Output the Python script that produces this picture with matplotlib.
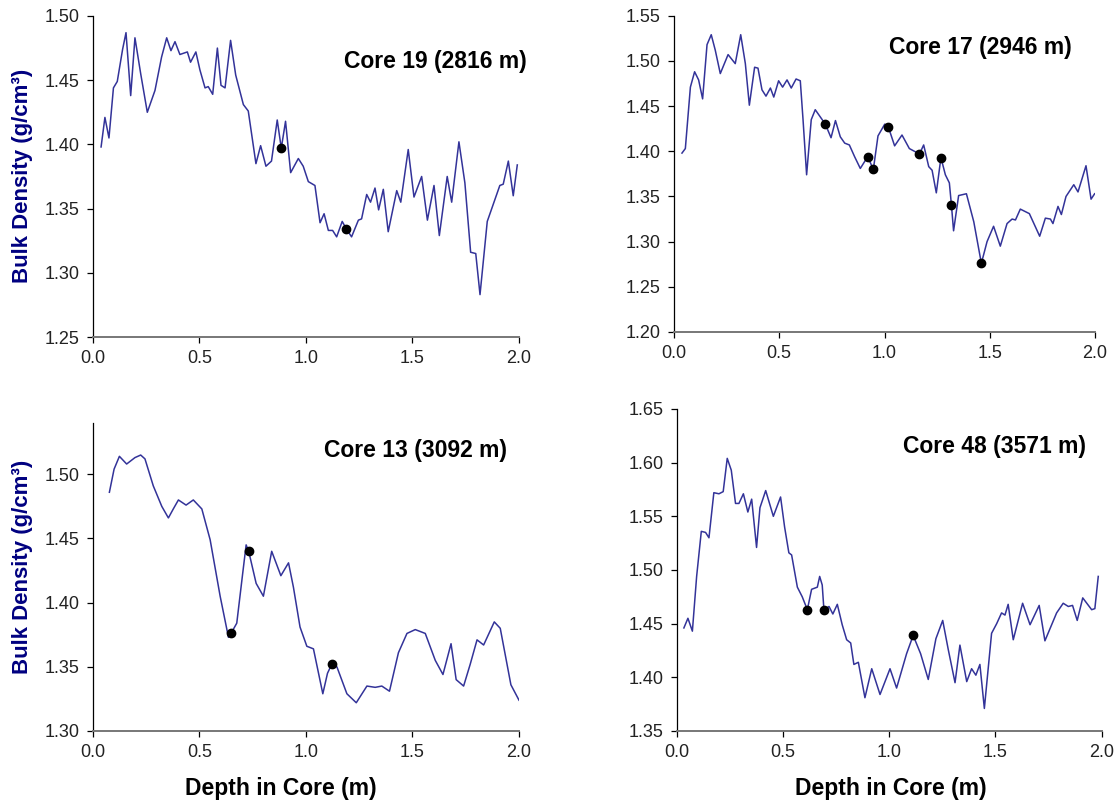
import matplotlib
matplotlib.use("Agg")
import matplotlib.pyplot as plt
from matplotlib.ticker import FormatStrFormatter

plt.rcParams['font.family'] = ['Liberation Sans', 'DejaVu Sans']

# Core 19 (2816 m)
c19_depth = [0.038, 0.056, 0.075, 0.096, 0.114, 0.139, 0.155, 0.177, 0.197, 0.224, 0.255,
             0.291, 0.322, 0.346, 0.366, 0.385, 0.408, 0.443, 0.458, 0.483, 0.502, 0.526,
             0.541, 0.562, 0.584, 0.601, 0.620, 0.646, 0.670, 0.706, 0.729, 0.765, 0.787,
             0.812, 0.838, 0.865, 0.884, 0.904, 0.928, 0.964, 0.987, 1.011, 1.042, 1.066,
             1.085, 1.105, 1.125, 1.144, 1.170, 1.190, 1.214, 1.246, 1.261, 1.285, 1.303,
             1.324, 1.341, 1.363, 1.386, 1.426, 1.445, 1.480, 1.507, 1.543, 1.570, 1.601,
             1.626, 1.663, 1.684, 1.718, 1.746, 1.773, 1.797, 1.817, 1.851, 1.910, 1.926,
             1.950, 1.973, 1.992]
c19_dens = [1.398, 1.421, 1.405, 1.444, 1.449, 1.474, 1.487, 1.438, 1.483, 1.455, 1.425,
            1.442, 1.468, 1.483, 1.473, 1.480, 1.470, 1.472, 1.464, 1.472, 1.458, 1.444,
            1.445, 1.439, 1.475, 1.446, 1.444, 1.481, 1.454, 1.431, 1.426, 1.385, 1.399,
            1.383, 1.387, 1.419, 1.397, 1.418, 1.378, 1.389, 1.383, 1.371, 1.368, 1.339,
            1.346, 1.333, 1.333, 1.328, 1.340, 1.334, 1.328, 1.341, 1.342, 1.361, 1.355,
            1.366, 1.349, 1.365, 1.332, 1.364, 1.355, 1.396, 1.359, 1.375, 1.341, 1.368,
            1.329, 1.375, 1.355, 1.402, 1.370, 1.316, 1.315, 1.283, 1.340, 1.368, 1.369,
            1.387, 1.360, 1.384]
c19_pts_depth = [0.884, 1.190]
c19_pts_dens = [1.397, 1.334]

# Core 17 (2946 m)
c17_depth = [0.038, 0.054, 0.078, 0.098, 0.117, 0.136, 0.157, 0.177, 0.196, 0.220, 0.257,
             0.291, 0.317, 0.339, 0.358, 0.383, 0.399, 0.418, 0.437, 0.458, 0.474, 0.497,
             0.516, 0.537, 0.557, 0.580, 0.600, 0.613, 0.630, 0.652, 0.671, 0.719, 0.746,
             0.767, 0.790, 0.811, 0.833, 0.858, 0.885, 0.920, 0.947, 0.969, 1.001, 1.018,
             1.048, 1.083, 1.118, 1.166, 1.186, 1.210, 1.226, 1.246, 1.268, 1.289, 1.308,
             1.318, 1.328, 1.352, 1.389, 1.424, 1.460, 1.487, 1.518, 1.550, 1.582, 1.606,
             1.622, 1.645, 1.688, 1.737, 1.764, 1.788, 1.800, 1.824, 1.840, 1.862, 1.899,
             1.919, 1.957, 1.981, 1.998]
c17_dens = [1.398, 1.403, 1.471, 1.488, 1.479, 1.458, 1.518, 1.529, 1.512, 1.486, 1.507,
            1.497, 1.529, 1.497, 1.451, 1.493, 1.492, 1.468, 1.461, 1.470, 1.460, 1.478,
            1.471, 1.479, 1.470, 1.480, 1.478, 1.435, 1.374, 1.435, 1.446, 1.430, 1.415,
            1.434, 1.416, 1.409, 1.407, 1.394, 1.381, 1.394, 1.380, 1.417, 1.430, 1.427,
            1.406, 1.418, 1.403, 1.397, 1.407, 1.383, 1.379, 1.354, 1.393, 1.374, 1.365,
            1.340, 1.312, 1.351, 1.353, 1.322, 1.276, 1.300, 1.317, 1.295, 1.320, 1.325,
            1.324, 1.336, 1.331, 1.306, 1.326, 1.325, 1.320, 1.339, 1.330, 1.350, 1.363,
            1.355, 1.384, 1.347, 1.353]
c17_pts_depth = [0.719, 0.920, 0.947, 1.018, 1.166, 1.268, 1.318, 1.460]
c17_pts_dens = [1.430, 1.394, 1.380, 1.427, 1.397, 1.393, 1.340, 1.276]

# Core 13 (3092 m)
c13_depth = [0.077, 0.099, 0.124, 0.158, 0.197, 0.224, 0.244, 0.283, 0.323, 0.354, 0.377,
             0.401, 0.437, 0.471, 0.511, 0.550, 0.597, 0.636, 0.648, 0.675, 0.703, 0.719,
             0.731, 0.766, 0.800, 0.839, 0.882, 0.918, 0.941, 0.972, 1.004, 1.035, 1.079,
             1.101, 1.121, 1.145, 1.192, 1.236, 1.286, 1.325, 1.356, 1.392, 1.434, 1.474,
             1.513, 1.560, 1.607, 1.643, 1.681, 1.705, 1.740, 1.771, 1.803, 1.834, 1.884,
             1.912, 1.962, 2.000]
c13_dens = [1.486, 1.504, 1.514, 1.508, 1.513, 1.515, 1.512, 1.491, 1.475, 1.466, 1.473,
            1.480, 1.476, 1.480, 1.473, 1.449, 1.405, 1.373, 1.376, 1.384, 1.423, 1.445,
            1.440, 1.415, 1.405, 1.440, 1.421, 1.431, 1.412, 1.381, 1.366, 1.364, 1.329,
            1.345, 1.352, 1.350, 1.329, 1.322, 1.335, 1.334, 1.335, 1.331, 1.361, 1.376,
            1.379, 1.376, 1.355, 1.344, 1.368, 1.340, 1.335, 1.352, 1.371, 1.367, 1.385,
            1.380, 1.336, 1.324]
c13_pts_depth = [0.648, 0.731, 1.122]
c13_pts_dens = [1.376, 1.440, 1.352]

# Core 48 (3571 m)
c48_depth = [0.034, 0.053, 0.074, 0.094, 0.116, 0.136, 0.152, 0.175, 0.199, 0.219, 0.238,
             0.257, 0.277, 0.293, 0.314, 0.335, 0.353, 0.376, 0.392, 0.419, 0.455, 0.489,
             0.508, 0.528, 0.541, 0.568, 0.591, 0.615, 0.635, 0.662, 0.673, 0.685, 0.693,
             0.717, 0.735, 0.756, 0.779, 0.800, 0.819, 0.834, 0.855, 0.886, 0.918, 0.957,
             1.004, 1.035, 1.082, 1.113, 1.148, 1.184, 1.220, 1.252, 1.278, 1.310, 1.333,
             1.365, 1.388, 1.408, 1.427, 1.448, 1.482, 1.506, 1.529, 1.545, 1.560, 1.584,
             1.628, 1.663, 1.706, 1.733, 1.788, 1.819, 1.843, 1.863, 1.885, 1.911, 1.953,
             1.968, 1.984]
c48_dens = [1.446, 1.455, 1.443, 1.494, 1.536, 1.535, 1.530, 1.572, 1.571, 1.573, 1.604,
            1.593, 1.562, 1.562, 1.571, 1.554, 1.566, 1.521, 1.558, 1.574, 1.550, 1.568,
            1.540, 1.516, 1.514, 1.484, 1.475, 1.463, 1.482, 1.484, 1.494, 1.486, 1.463,
            1.466, 1.459, 1.468, 1.449, 1.435, 1.432, 1.412, 1.414, 1.381, 1.408, 1.384,
            1.408, 1.390, 1.422, 1.439, 1.422, 1.398, 1.436, 1.453, 1.426, 1.395, 1.430,
            1.396, 1.408, 1.402, 1.412, 1.371, 1.441, 1.450, 1.460, 1.458, 1.468, 1.435,
            1.469, 1.449, 1.467, 1.434, 1.460, 1.469, 1.466, 1.467, 1.453, 1.474, 1.463,
            1.464, 1.494]
c48_pts_depth = [0.615, 0.693, 1.113]
c48_pts_dens = [1.463, 1.463, 1.439]

titles = ['Core 19 (2816 m)', 'Core 17 (2946 m)', 'Core 13 (3092 m)', 'Core 48 (3571 m)']
ylims = [(1.25, 1.50), (1.20, 1.55), (1.30, 1.54), (1.35, 1.65)]
ytick_lists = [[1.25, 1.30, 1.35, 1.40, 1.45, 1.50],
               [1.20, 1.25, 1.30, 1.35, 1.40, 1.45, 1.50, 1.55],
               [1.30, 1.35, 1.40, 1.45, 1.50],
               [1.35, 1.40, 1.45, 1.50, 1.55, 1.60, 1.65]]
xticks = [0.0, 0.5, 1.0, 1.5, 2.0]

series = [(c19_depth, c19_dens, c19_pts_depth, c19_pts_dens),
          (c17_depth, c17_dens, c17_pts_depth, c17_pts_dens),
          (c13_depth, c13_dens, c13_pts_depth, c13_pts_dens),
          (c48_depth, c48_dens, c48_pts_depth, c48_pts_dens)]

# axes boxes measured in figure fractions
boxes = [[0.0831, 0.5824, 0.3807, 0.3978],
         [0.6023, 0.5886, 0.3763, 0.3919],
         [0.0831, 0.0942, 0.3807, 0.3817],
         [0.6047, 0.0942, 0.3798, 0.3990]]
title_pos = [(0.803, 0.857), (0.727, 0.901), (0.756, 0.912), (0.747, 0.883)]

fig = plt.figure(figsize=(11.19, 8.07), dpi=100)
line_col = '#333399'

for i in range(4):
    ax = fig.add_axes(boxes[i])
    d, v, pd_, pv = series[i]
    ax.plot(d, v, color=line_col, lw=1.1, solid_joinstyle='round')
    ax.plot(pd_, pv, 'o', color='black', ms=6, zorder=3)
    ax.set_xlim(0, 2.0)
    ax.set_ylim(*ylims[i])
    ax.set_xticks(xticks)
    ax.set_yticks(ytick_lists[i])
    ax.xaxis.set_major_formatter(FormatStrFormatter('%.1f'))
    ax.yaxis.set_major_formatter(FormatStrFormatter('%.2f'))
    for s in ['top', 'right']:
        ax.spines[s].set_visible(False)
    ax.spines['left'].set_color('black')
    ax.spines['left'].set_linewidth(0.9)
    ax.spines['bottom'].set_color('#777777')
    ax.spines['bottom'].set_linewidth(1.4)
    ax.tick_params(axis='both', direction='out', length=4.5, width=0.9,
                   labelsize=13, colors='black', labelcolor='#222222')
    ax.tick_params(axis='x', pad=5)
    ax.tick_params(axis='y', pad=5)
    ax.text(title_pos[i][0], title_pos[i][1], titles[i], transform=ax.transAxes,
            ha='center', va='center', fontsize=16.5, fontweight='bold')

ylab = 'Bulk Density (g/cm³)'
fig.text(23 / 1119, 1 - 176 / 807, ylab, rotation=90, ha='center', va='center',
         fontsize=16, fontweight='bold', color='#000080')
fig.text(23 / 1119, 1 - 567 / 807, ylab, rotation=90, ha='center', va='center',
         fontsize=16, fontweight='bold', color='#000080')
fig.text(281 / 1119, 1 - 789 / 807, 'Depth in Core (m)', ha='center', va='center',
         fontsize=16.5, fontweight='bold')
fig.text(891 / 1119, 1 - 788 / 807, 'Depth in Core (m)', ha='center', va='center',
         fontsize=16.5, fontweight='bold')

fig.savefig('out.png', dpi=100)
